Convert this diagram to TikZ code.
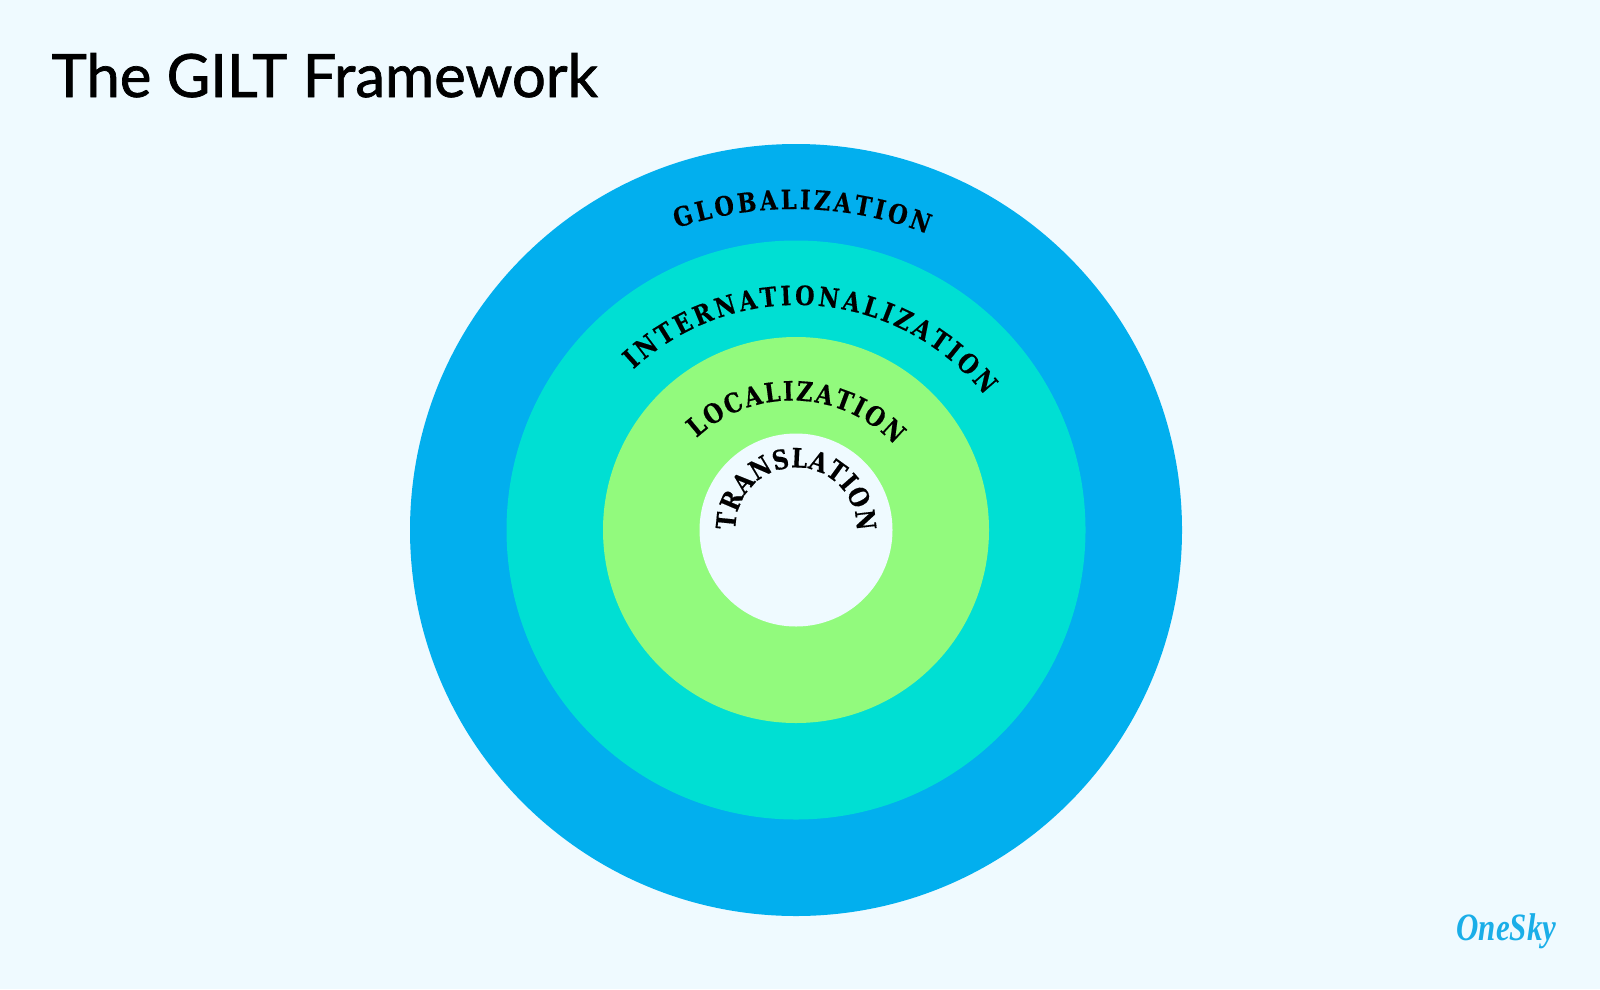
\documentclass[tikz,border=0pt]{standalone}
\usepackage{fontspec}
\setmainfont{Lato}
\newfontfamily\arclabelfont{DejaVu Serif Bold}[FakeStretch=0.84,FakeBold=0.4]
\newfontfamily\logofont{Liberation Serif}[FakeStretch=0.8]
\definecolor{pagebg}{RGB}{239, 250, 255}
\definecolor{globalblue}{RGB}{2, 175, 238}
\definecolor{interteal}{RGB}{0, 223, 211}
\definecolor{localgreen}{RGB}{146, 250, 125}
\definecolor{logoblue}{RGB}{26, 174, 232}
\usetikzlibrary{decorations.text}

\begin{document}
\begin{tikzpicture}
% Styles
\tikzstyle{ring}=[circle, inner sep=0pt]
\tikzstyle{arclabel}=[decorate]
\newcommand{\arcfont}{\fontsize{7.6}{9}\arclabelfont}

% Page
\useasboundingbox (0,0) rectangle (16,9.89);
\fill[pagebg] (0,0) rectangle (16,9.89);
\node[anchor=base west, inner sep=0pt, font=\fontsize{17}{20}\selectfont\addfontfeature{FakeBold=1.2}, text=black] (title) at (0.51,8.92) {The GILT Framework};

% Rings
\node[ring, fill=globalblue, minimum size=7.72cm] (glob) at (7.96,4.59) {};
\node[ring, fill=interteal, minimum size=5.79cm] (inter) at (glob.center) {};
\node[ring, fill=localgreen, minimum size=3.86cm] (local) at (glob.center) {};
\node[ring, fill=pagebg, minimum size=1.93cm] (trans) at (glob.center) {};

% Labels on arcs
\path[arclabel, decoration={text along path, text align={fit to path}, text={|\arcfont|GLOBALIZATION}}]
  (7.94,4.12) ++(108.6:3.68) arc[start angle=108.6, end angle=68.8, radius=3.68];
\path[arclabel, decoration={text along path, text align={fit to path}, text={|\arcfont|INTERNATIONALIZATION}}]
  (7.97,4.44) ++(133:2.40) arc[start angle=133, end angle=38.6, radius=2.40];
\path[arclabel, decoration={text along path, text align={fit to path}, text={|\arcfont|LOCALIZATION}}]
  (7.92,4.485) ++(133:1.40) arc[start angle=133, end angle=43, radius=1.40];
\path[arclabel, decoration={text along path, text align={fit to path}, text={|\arcfont|TRANSLATION}}]
  (7.96,4.61) ++(182:0.605) arc[start angle=182, end angle=-3, radius=0.605];

% Logo
\node[anchor=base east, inner sep=0pt, font=\fontsize{11}{12}\logofont\bfseries\itshape, text=logoblue] (logo) at (15.57,0.49) {OneSky};
\end{tikzpicture}
\end{document}
